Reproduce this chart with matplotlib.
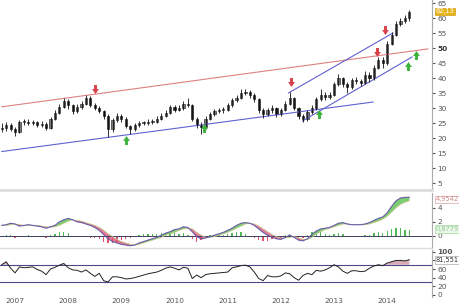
import numpy as np
import matplotlib.pyplot as plt
from matplotlib.path import Path

# monthly bars, Oct 2006 .. Jun 2014
close = [23.5, 24.5, 23.0, 22.0, 25.3, 25.5, 25.0, 25.2, 24.5, 24.8,
         23.5, 26.5, 28.5, 30.5, 32.5, 31.0, 29.0, 30.5, 31.5, 33.5,
         31.0, 30.0, 29.0, 27.5, 23.0, 26.0, 27.5, 26.5, 24.0, 23.0,
         24.3, 25.0, 25.0, 25.5, 25.5, 26.5, 27.5, 28.5, 30.3, 29.5,
         30.0, 31.5, 31.0, 26.5, 24.5, 23.7, 26.5, 28.0, 29.0, 29.3,
         29.5, 31.0, 32.7, 33.5, 35.0, 35.5, 34.5, 33.0, 29.3, 28.0,
         29.3, 30.0, 28.0, 29.3, 31.5, 33.3, 30.0, 27.5, 26.5, 28.7,
         30.0, 33.0, 34.5, 33.7, 34.3, 38.0, 40.0, 38.0, 37.0, 39.3,
         39.0, 38.3, 41.0, 40.0, 43.5, 46.0, 45.0, 51.5, 54.5, 58.0,
         59.0, 60.0, 62.13]
high = [25.0, 25.5, 25.0, 23.8, 26.0, 26.5, 26.3, 26.0, 25.8, 25.6,
        25.2, 27.0, 29.3, 31.5, 33.5, 33.0, 31.5, 31.3, 32.5, 34.4,
        34.0, 31.8, 30.8, 29.5, 28.0, 26.8, 28.3, 28.0, 27.0, 24.5,
        25.0, 25.8, 25.8, 26.3, 26.5, 27.3, 28.3, 29.5, 31.0, 31.0,
        31.0, 32.5, 33.3, 31.5, 27.0, 25.5, 27.3, 28.8, 29.8, 30.0,
        30.3, 31.8, 33.5, 34.5, 36.3, 36.5, 36.0, 35.0, 33.5, 30.0,
        30.0, 31.0, 30.5, 30.0, 32.3, 35.3, 33.8, 30.5, 28.0, 29.5,
        31.0, 33.8, 36.3, 35.3, 35.5, 38.8, 41.5, 40.5, 38.8, 40.0,
        40.3, 39.8, 42.5, 42.0, 44.3, 47.0, 47.0, 52.5, 55.5, 59.0,
        60.0, 61.0, 62.8]
low = [22.0, 22.5, 22.3, 20.8, 21.8, 24.5, 24.2, 24.3, 23.8, 23.8,
       22.6, 23.0, 26.0, 28.0, 30.0, 29.8, 28.0, 28.5, 29.8, 31.0,
       30.5, 29.3, 28.3, 26.5, 20.5, 22.0, 25.5, 25.5, 23.3, 21.5,
       22.5, 23.8, 24.2, 24.5, 24.8, 25.0, 26.0, 27.0, 28.0, 28.8,
       29.0, 29.5, 30.3, 25.8, 23.3, 21.3, 23.0, 26.0, 27.5, 28.3,
       28.5, 29.0, 30.5, 32.0, 33.0, 34.3, 33.5, 32.0, 28.3, 26.8,
       27.3, 28.5, 27.0, 27.5, 29.0, 31.0, 29.3, 26.5, 25.3, 25.8,
       28.0, 29.5, 32.5, 32.8, 33.0, 34.0, 37.5, 37.0, 35.0, 36.5,
       38.0, 37.5, 38.0, 38.8, 39.5, 43.0, 43.5, 44.5, 51.0, 54.0,
       57.5, 58.5, 59.0]
first_open = 23.0

macd = [1.5, 1.6, 1.8, 1.7, 1.4, 1.5, 1.6, 1.5, 1.4, 1.3,
        1.1, 1.3, 1.5, 2.0, 2.3, 2.5, 2.3, 2.0, 1.9, 1.7,
        1.5, 1.2, 0.8, 0.2, -0.4, -0.8, -1.0, -1.2, -1.3, -1.4,
        -1.3, -1.0, -0.8, -0.6, -0.4, -0.2, 0.1, 0.4, 0.6, 0.9,
        1.0, 1.3, 1.2, 0.6, -0.1, -0.4, -0.3, -0.1, 0.1, 0.3,
        0.5, 0.8, 1.1, 1.5, 1.8, 1.9, 1.8, 1.5, 1.0, 0.5,
        0.1, -0.2, -0.4, -0.5, -0.2, 0.1, -0.2, -0.6, -0.7, -0.4,
        0.2, 0.7, 1.0, 1.1, 1.2, 1.5, 1.8, 1.9, 1.7, 1.6,
        1.6, 1.6, 1.7, 1.9, 2.2, 2.5, 2.7, 3.3, 4.2, 5.0,
        5.4, 5.5, 5.5]
signal = [1.5, 1.5, 1.6, 1.7, 1.6, 1.5, 1.5, 1.5, 1.5, 1.4,
          1.3, 1.25, 1.3, 1.5, 1.8, 2.1, 2.3, 2.2, 2.1, 1.9,
          1.7, 1.5, 1.2, 0.8, 0.3, -0.1, -0.5, -0.8, -1.0, -1.2,
          -1.3, -1.2, -1.0, -0.8, -0.6, -0.4, -0.2, 0.1, 0.3, 0.5,
          0.8, 1.0, 1.1, 1.0, 0.5, 0.1, -0.2, -0.2, -0.1, 0.1,
          0.3, 0.5, 0.8, 1.1, 1.4, 1.7, 1.8, 1.7, 1.4, 1.0,
          0.6, 0.2, -0.1, -0.3, -0.3, -0.2, -0.1, -0.3, -0.5, -0.5,
          -0.2, 0.3, 0.6, 0.9, 1.1, 1.3, 1.5, 1.7, 1.7, 1.6,
          1.6, 1.6, 1.6, 1.7, 1.9, 2.1, 2.4, 2.8, 3.4, 4.0,
          4.5, 4.8, 5.0]
hist = [0.0, 0.1, 0.1, -0.3, -0.2, 0.0, 0.1, 0.0, -0.1, -0.2,
        -0.3, 0.1, 0.3, 0.5, 0.5, 0.4, 0.0, -0.2, -0.2, -0.2,
        -0.3, -0.3, -0.5, -0.8, -1.0, -1.0, -0.8, -0.6, -0.4, -0.3,
        0.0, 0.2, 0.3, 0.3, 0.3, 0.3, 0.4, 0.4, 0.4, 0.5,
        0.3, 0.4, 0.1, -0.5, -0.8, -0.6, -0.1, 0.1, 0.2, 0.2,
        0.2, 0.3, 0.4, 0.5, 0.5, 0.3, 0.0, -0.3, -0.6, -0.7,
        -0.7, -0.5, -0.4, -0.3, 0.1, 0.3, -0.1, -0.4, -0.3, 0.1,
        0.5, 0.6, 0.5, 0.3, 0.2, 0.3, 0.4, 0.3, 0.0, 0.0,
        0.0, 0.0, 0.1, 0.2, 0.4, 0.5, 0.4, 0.7, 1.0, 1.2,
        1.1, 0.9, 0.8]
rsi = [70, 77, 62, 51, 65, 63, 64, 65, 59, 55,
       47, 60, 64, 69, 73, 63, 58, 57, 53, 58,
       50, 43, 50, 33, 30, 42, 42, 40, 37, 38,
       40, 43, 46, 49, 51, 53, 57, 62, 65, 62,
       58, 64, 62, 38, 46, 40, 47, 49, 50, 51,
       52, 53, 63, 65, 68, 69, 65, 53, 38, 33,
       45, 42, 42, 44, 51, 49, 40, 34, 45, 50,
       47, 57, 55, 58, 63, 70, 65, 55, 50, 56,
       56, 54, 55, 62, 67, 70, 68, 74, 77, 80,
       80, 79, 81.551]

years = ['2007', '2008', '2009', '2010', '2011', '2012', '2013', '2014']
year_pos = [3, 15, 27, 39, 51, 63, 75, 87]

# trend lines drawn on the chart (month index, price)
red_line = ([0, 96.2], [30.4, 49.7])
support_line = ([0, 83.8], [15.5, 32.0])
channel_top = ([64.7, 88.3], [35.0, 55.0])
channel_bottom = ([67.9, 92.6], [25.7, 47.0])

sell_x = [21.1, 65.2, 84.7, 86.5]
sell_y = [36.3, 38.7, 48.7, 56.0]
buy_x = [28.1, 45.6, 71.7, 91.7, 93.5]
buy_y = [19.3, 23.3, 28.0, 44.0, 47.7]

x = np.arange(len(close))
opens = [first_open] + close[:-1]
xlim = (-0.4, 97.1)
tick_col = '#555555'

fig = plt.figure(figsize=(4.6, 3.08), dpi=100)
ax = fig.add_axes([0, 0.383, 0.939, 0.617])
ax2 = fig.add_axes([0, 0.195, 0.939, 0.179])
ax3 = fig.add_axes([0, 0.036, 0.939, 0.153])

for a in (ax, ax2, ax3):
    a.set_xlim(*xlim)
    a.yaxis.tick_right()
    a.spines['left'].set_visible(False)
    a.spines['top'].set_visible(False)
    a.spines['right'].set_color('#aaaaaa')
    a.spines['right'].set_linewidth(0.8)
    a.tick_params(axis='y', length=2, labelsize=5.3, colors=tick_col, pad=2)
    a.tick_params(axis='x', length=0)
    a.set_xticks([])


def value_box(a, y, text, fc, ec, tc):
    a.text(1.008, y, text, transform=a.get_yaxis_transform(), fontsize=4.8,
           color=tc, va='center', ha='left', zorder=5,
           bbox=dict(boxstyle='square,pad=0.12', fc=fc, ec=ec, lw=0.5))


# price panel
ax.set_ylim(2.67, 66)
ax.set_yticks(range(5, 70, 5))
for lab in ax.get_yticklabels():
    if lab.get_text() == '50':
        lab.set_fontweight('bold')
        lab.set_color('#333333')
ax.spines['bottom'].set_color('#dddddd')
ax.spines['bottom'].set_linewidth(2)

ax.plot(*red_line, color='#e08080', lw=0.8)
ax.plot(*support_line, color='#6060d0', lw=0.8)
ax.plot(*channel_top, color='#6060d0', lw=0.8)
ax.plot(*channel_bottom, color='#6060d0', lw=0.8)

ax.vlines(x, low, high, color='#111111', lw=0.6)
o = np.array(opens)
c = np.array(close)
up = c >= o
bot = np.minimum(o, c)
h = np.maximum(np.abs(c - o), 0.25)
ax.bar(x[up], h[up], bottom=bot[up], width=0.5, color='#7a7a7a',
       edgecolor='#111111', linewidth=0.4)
ax.bar(x[~up], h[~up], bottom=bot[~up], width=0.5, color='#1a1a1a',
       edgecolor='#111111', linewidth=0.4)

arrow = [(-0.32, 1), (0.32, 1), (0.32, 0.1), (0.75, 0.1), (0, -1),
         (-0.75, 0.1), (-0.32, 0.1), (-0.32, 1)]
down_m = Path(arrow, closed=True)
up_m = Path([(px, -py) for px, py in arrow], closed=True)
ax.plot(sell_x, sell_y, ls='none', marker=down_m, ms=6.5, color='#d8404a', mew=0)
ax.plot(buy_x, buy_y, ls='none', marker=up_m, ms=6.5, color='#3cb43c', mew=0)

value_box(ax, 62.2, '62,13', '#e8b41c', '#d0a010', 'white')

# MACD panel
ax2.set_ylim(-1.71, 6.14)
ax2.set_yticks([0, 2, 4])
ax2.spines['bottom'].set_color('#dddddd')
ax2.spines['bottom'].set_linewidth(1)
ax2.axhline(0, color='#404068', lw=0.7)
m = np.array(macd)
s = np.array(signal)
ax2.fill_between(x, m, s, where=m >= s, interpolate=True, color='#6cc860', alpha=0.9, lw=0)
ax2.fill_between(x, m, s, where=m < s, interpolate=True, color='#e06a88', alpha=0.9, lw=0)
ax2.plot(x, s, color='#c8c890', lw=0.6)
ax2.plot(x, m, color='#6a5aa8', lw=0.8)
hv = np.array(hist)
ax2.bar(x, hv, width=0.3, color=np.where(hv >= 0, '#50b850', '#e05068'), lw=0)
value_box(ax2, 5.2, '4,9542', 'white', '#d8a0a0', '#d08888')
value_box(ax2, 1.0, '0,8779', '#eaf7ea', '#a0d8a0', '#90c890')

# RSI panel
ax3.set_ylim(-4.7, 104.7)
ax3.set_yticks([0, 20, 40, 60, 80, 100])
ax3.set_yticklabels(['0', '20', '40', '60', '', '100'])
ax3.get_yticklabels()[-1].set_fontweight('bold')
ax3.spines['bottom'].set_visible(False)
ax3.axhline(70, color='#4a4a88', lw=0.8)
ax3.axhline(30, color='#4a4a88', lw=0.8)
r = np.array(rsi, dtype=float)
ax3.fill_between(x, r, 70, where=r >= 70, interpolate=True, color='#c88898', alpha=0.7, lw=0)
ax3.plot(x, r, color='#222222', lw=0.7)
value_box(ax3, 81.5, '81,551', 'white', '#aaaaaa', '#333333')
ax3.set_xticks(year_pos)
ax3.set_xticklabels(years, fontsize=5.3, color=tick_col)
ax3.tick_params(axis='x', pad=1)

fig.savefig('out.png', dpi=100)
